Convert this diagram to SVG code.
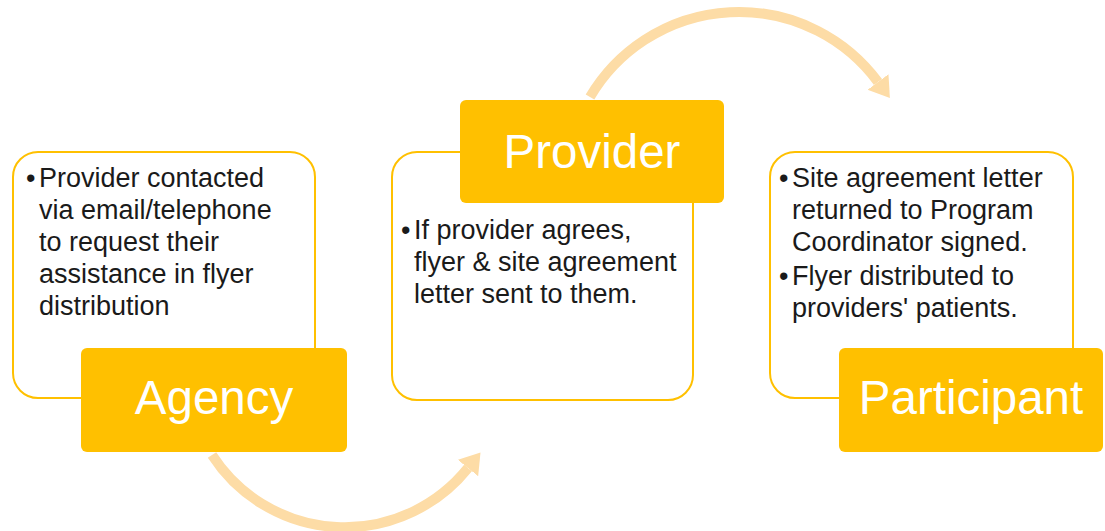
<svg xmlns="http://www.w3.org/2000/svg" width="1105" height="531" viewBox="0 0 1105 531">
  <style>
    .card { fill: #FFFFFF; stroke: #FFC000; stroke-width: 2; }
    .head { fill: #FFC000; }
    .htxt { font-family: "Liberation Sans", Arial, sans-serif; font-size: 47.5px; fill: #FFFFFF; text-anchor: middle; }
    .btxt { font-family: "Liberation Sans", Arial, sans-serif; font-size: 27px; fill: #1A1A1A; }
    .arc { fill: none; stroke: #FDDCA6; stroke-width: 10; }
  </style>
  <defs>
    <marker id="ah" markerUnits="userSpaceOnUse" markerWidth="30" markerHeight="30" refX="0" refY="13" orient="auto" viewBox="0 0 30 30">
      <path d="M0,0 L20,13 L0,26 z" fill="#FDDCA6"/>
    </marker>
  </defs>
  <rect width="1105" height="531" fill="#FFFFFF"/>

  <g id="connectors">
    <path class="arc" d="M 212 455 A 158 158 0 0 0 468 468" marker-end="url(#ah)"/>
    <path class="arc" d="M 590 97 A 173 173 0 0 1 878 82" marker-end="url(#ah)"/>
  </g>

  <g id="node-agency">
    <rect class="card" x="13" y="152" width="302" height="246" rx="25"/>
    <text class="btxt">
      <tspan x="26" y="187">•</tspan><tspan x="39" y="187">Provider contacted</tspan>
      <tspan x="39" y="219">via email/telephone</tspan>
      <tspan x="39" y="251">to request their</tspan>
      <tspan x="39" y="283">assistance in flyer</tspan>
      <tspan x="39" y="315">distribution</tspan>
    </text>
    <rect class="head" x="81" y="348" width="266" height="104" rx="6"/>
    <text class="htxt" x="214" y="414">Agency</text>
  </g>

  <g id="node-provider">
    <rect class="card" x="392" y="152" width="301" height="248" rx="25"/>
    <rect class="head" x="460" y="100" width="264" height="103" rx="6"/>
    <text class="htxt" x="592" y="168">Provider</text>
    <text class="btxt">
      <tspan x="401" y="239">•</tspan><tspan x="414" y="239">If provider agrees,</tspan>
      <tspan x="414" y="271">flyer &amp; site agreement</tspan>
      <tspan x="414" y="303">letter sent to them.</tspan>
    </text>
  </g>

  <g id="node-participant">
    <rect class="card" x="770" y="152" width="303" height="246" rx="25"/>
    <text class="btxt">
      <tspan x="779" y="187">•</tspan><tspan x="792" y="187">Site agreement letter</tspan>
      <tspan x="792" y="219">returned to Program</tspan>
      <tspan x="792" y="251">Coordinator signed.</tspan>
      <tspan x="779" y="285">•</tspan><tspan x="792" y="285">Flyer distributed to</tspan>
      <tspan x="792" y="317">providers' patients.</tspan>
    </text>
    <rect class="head" x="839" y="348" width="264" height="104" rx="6"/>
    <text class="htxt" x="971" y="414">Participant</text>
  </g>
</svg>
